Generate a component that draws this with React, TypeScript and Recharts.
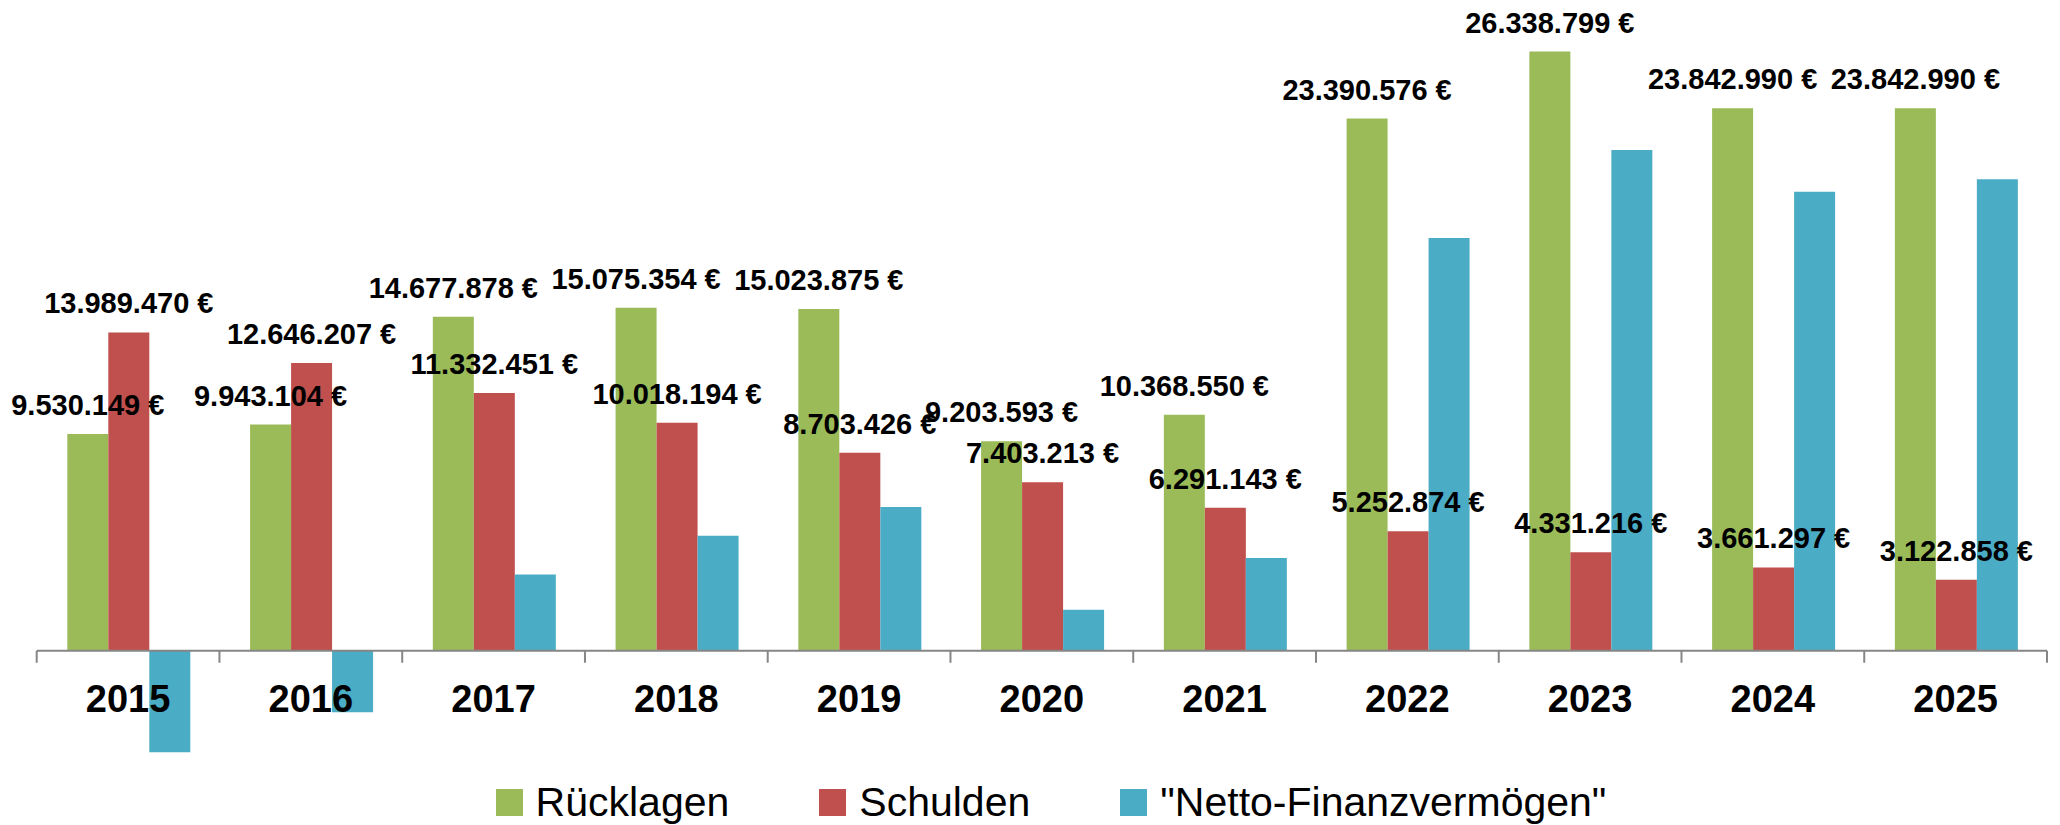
import { BarChart, Bar, XAxis, YAxis, LabelList, ReferenceLine } from "recharts";

// values
const years = ["2015", "2016", "2017", "2018", "2019", "2020", "2021", "2022", "2023", "2024", "2025"];
const ruecklagen = [9530149, 9943104, 14677878, 15075354, 15023875, 9203593, 10368550, 23390576, 26338799, 23842990, 23842990];
const schulden = [13989470, 12646207, 11332451, 10018194, 8703426, 7403213, 6291143, 5252874, 4331216, 3661297, 3122858];
const netto = [-4460000, -2700000, 3350000, 5060000, 6320000, 1800000, 4080000, 18140000, 22010000, 20180000, 20720000];

const seriesNames = ["Rücklagen", "Schulden", "\"Netto-Finanzvermögen\""];
const seriesColors = ["#9BBB59", "#C0504D", "#4BACC6"];

const data = years.map((year, i) => ({
  year,
  ruecklagen: ruecklagen[i],
  schulden: schulden[i],
  netto: netto[i],
}));

const W = 2060;
const H = 825;
const margin = { top: 36.5, right: 13, bottom: 30.5, left: 36.7 };
const Y_MIN = -5000000;
const Y_MAX = 27000000;
const PLOT_H = H - margin.top - margin.bottom - 30;
const PLOT_W = W - margin.left - margin.right;
const BAND = PLOT_W / years.length;
const ZERO_Y = margin.top + (PLOT_H * Y_MAX) / (Y_MAX - Y_MIN);

const FONT = "'Liberation Sans', Arial, sans-serif";

const euro = (v: any) =>
  String(Math.round(Number(v))).replace(/\B(?=(\d{3})+(?!\d))/g, ".") + " €";

function YearTick(props: any) {
  const { x, index, payload } = props;
  const half = BAND / 2;
  return (
    <g>
      <line x1={x - half} x2={x - half} y1={ZERO_Y} y2={ZERO_Y + 12} stroke="#868686" strokeWidth={2} />
      {index === years.length - 1 && (
        <line x1={x + half} x2={x + half} y1={ZERO_Y} y2={ZERO_Y + 12} stroke="#868686" strokeWidth={2} />
      )}
      <text
        x={x}
        y={ZERO_Y + 61}
        textAnchor="middle"
        fontFamily={FONT}
        fontWeight="bold"
        fontSize={38}
        fill="#000"
      >
        {payload.value}
      </text>
    </g>
  );
}

function ValueLabel(props: any) {
  const { x, y, width, value } = props;
  return (
    <text
      x={Number(x) + Number(width) / 2}
      y={Number(y) - 19}
      textAnchor="middle"
      fontFamily={FONT}
      fontWeight="bold"
      fontSize={29}
      fill="#000"
    >
      {euro(value)}
    </text>
  );
}

export default function App() {
  return (
    <div style={{ position: "relative", width: W, height: H, background: "#fff" }}>
      <style>{"body{margin:0}"}</style>
      <BarChart
        width={W}
        height={H}
        data={data}
        margin={margin}
        barCategoryGap="16.75%"
        barGap={0}
      >
        <XAxis
          dataKey="year"
          axisLine={false}
          tickLine={false}
          height={30}
          interval={0}
          tick={<YearTick />}
        />
        <YAxis hide domain={[Y_MIN, Y_MAX]} allowDataOverflow />
        <Bar dataKey="ruecklagen" fill={seriesColors[0]} isAnimationActive={false}>
          <LabelList dataKey="ruecklagen" content={<ValueLabel />} />
        </Bar>
        <Bar dataKey="schulden" fill={seriesColors[1]} isAnimationActive={false}>
          <LabelList dataKey="schulden" content={<ValueLabel />} />
        </Bar>
        <Bar dataKey="netto" fill={seriesColors[2]} isAnimationActive={false} />
        <ReferenceLine y={0} stroke="#868686" strokeWidth={2} />
      </BarChart>
      <div
        style={{
          position: "absolute",
          left: 0,
          top: 782,
          width: W,
          boxSizing: "border-box",
          paddingLeft: 42,
          display: "flex",
          justifyContent: "center",
          gap: 90,
          fontFamily: FONT,
          fontSize: 41,
          lineHeight: "41px",
          color: "#000",
        }}
      >
        {seriesNames.map((name, i) => (
          <div key={name} style={{ display: "flex", alignItems: "center", gap: 13 }}>
            <span style={{ width: 27, height: 27, background: seriesColors[i], display: "inline-block" }} />
            <span>{name}</span>
          </div>
        ))}
      </div>
    </div>
  );
}
